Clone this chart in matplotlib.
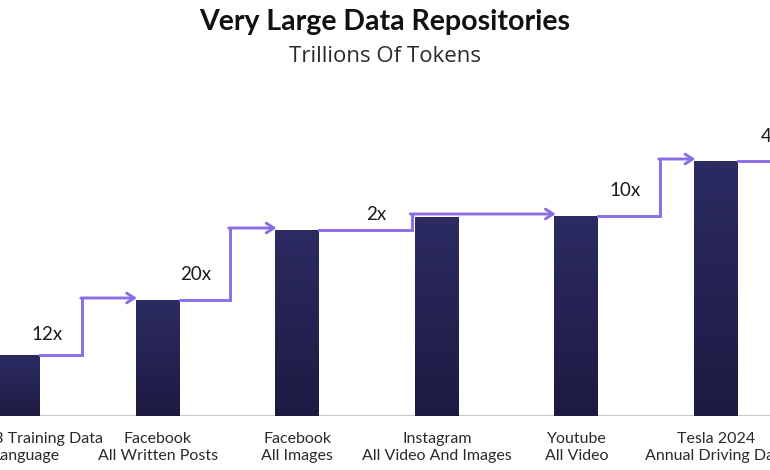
import numpy as np
import matplotlib.pyplot as plt
from matplotlib.colors import LinearSegmentedColormap

# bar data (heights, arbitrary units above the baseline)
labels = [
    "Llama 3 Training Data\nLanguage",
    "Facebook\nAll Written Posts",
    "Facebook\nAll Images",
    "Instagram\nAll Video And Images",
    "Youtube\nAll Video",
    "Tesla 2024\nAnnual Driving Data",
]
heights = [61, 116, 186, 199, 200, 255]

# growth arrows: (from bar, to bar, multiplier text)
arrow_from = [0, 1, 2, 4, 5]
arrow_to = [1, 2, 4, 5, 6]
arrow_text = ["12x", "20x", "2x", "10x", "40x"]

# layout tweaks (pixels / category units)
step_offset = [0.46, 0.52, 0.82, 0.60, 0.68]
label_rise = [20, 25, 15, 25, 25]
label_shift = [8, 0, 0, 0, 0, 0]

BAR = "#27255a"
LINE = "#8a6ee6"
TXT = "#1a1a1a"
W = 0.315
PX = 139.6  # pixels per category


def main():
    fig = plt.figure(figsize=(7.7, 4.7), dpi=100)
    ax = fig.add_axes([0, 54 / 470, 1, 416 / 470])
    ax.axis("off")

    x = np.arange(len(heights))
    cmap = LinearSegmentedColormap.from_list("b", ["#1d1a42", "#2c2b62"])
    bars = ax.bar(x, heights, width=W, color=BAR, zorder=2)
    grad = np.linspace(0, 1, 100).reshape(-1, 1)
    for b in bars:
        im = ax.imshow(grad, extent=(b.get_x(), b.get_x() + W, 0, b.get_height()),
                       origin="lower", aspect="auto", cmap=cmap, zorder=2.5)
        im.set_clip_path(b)
    ax.set_xlim(-18 / PX, (770 - 18) / PX)
    ax.set_ylim(0, 416)

    ax.axhline(0, color="#c8c8c8", lw=1.5, zorder=1)

    # step arrows between bars
    for a, b_, t, off, rise in zip(arrow_from, arrow_to, arrow_text, step_offset, label_rise):
        y0 = heights[a]
        xs = a + off
        x0 = a + W / 2
        if b_ < len(heights):
            y1 = heights[b_] + 2
            x1 = b_ - W / 2
            ax.plot([x0, xs, xs], [y0, y0, y1], color=LINE, lw=2.1,
                    solid_joinstyle="miter", zorder=3)
            ax.annotate("", xy=(x1 + 0.01, y1), xytext=(xs - 0.01, y1),
                        arrowprops=dict(arrowstyle="->,head_length=0.55,head_width=0.35",
                                        color=LINE, lw=2.1, shrinkA=0, shrinkB=0),
                        zorder=3)
        else:
            ax.plot([x0, xs + 1], [y0, y0], color=LINE, lw=2.1, zorder=3)
        ax.annotate(t, xy=(xs - 35 / PX, y0 + rise), ha="center", va="center",
                    fontsize=13.5, color=TXT, family="Lato", annotation_clip=False)

    for xi, lab, sh in zip(x, labels, label_shift):
        ax.text(xi + sh / PX, -16, lab, ha="center", va="top", fontsize=11.5,
                color="#2a2a2a", family="Lato", linespacing=1.25, clip_on=False)

    fig.text(0.5, 1 - 22 / 470, "Very Large Data Repositories", ha="center",
             va="center", fontsize=20.5, fontweight="bold", color="#111111", family="Lato")
    fig.text(0.5, 1 - 57 / 470, "Trillions Of Tokens", ha="center", va="center",
             fontsize=16, color="#2a2a2a", family="Open Sans")

    fig.savefig("out.png", dpi=100)


if __name__ == "__main__":
    main()
